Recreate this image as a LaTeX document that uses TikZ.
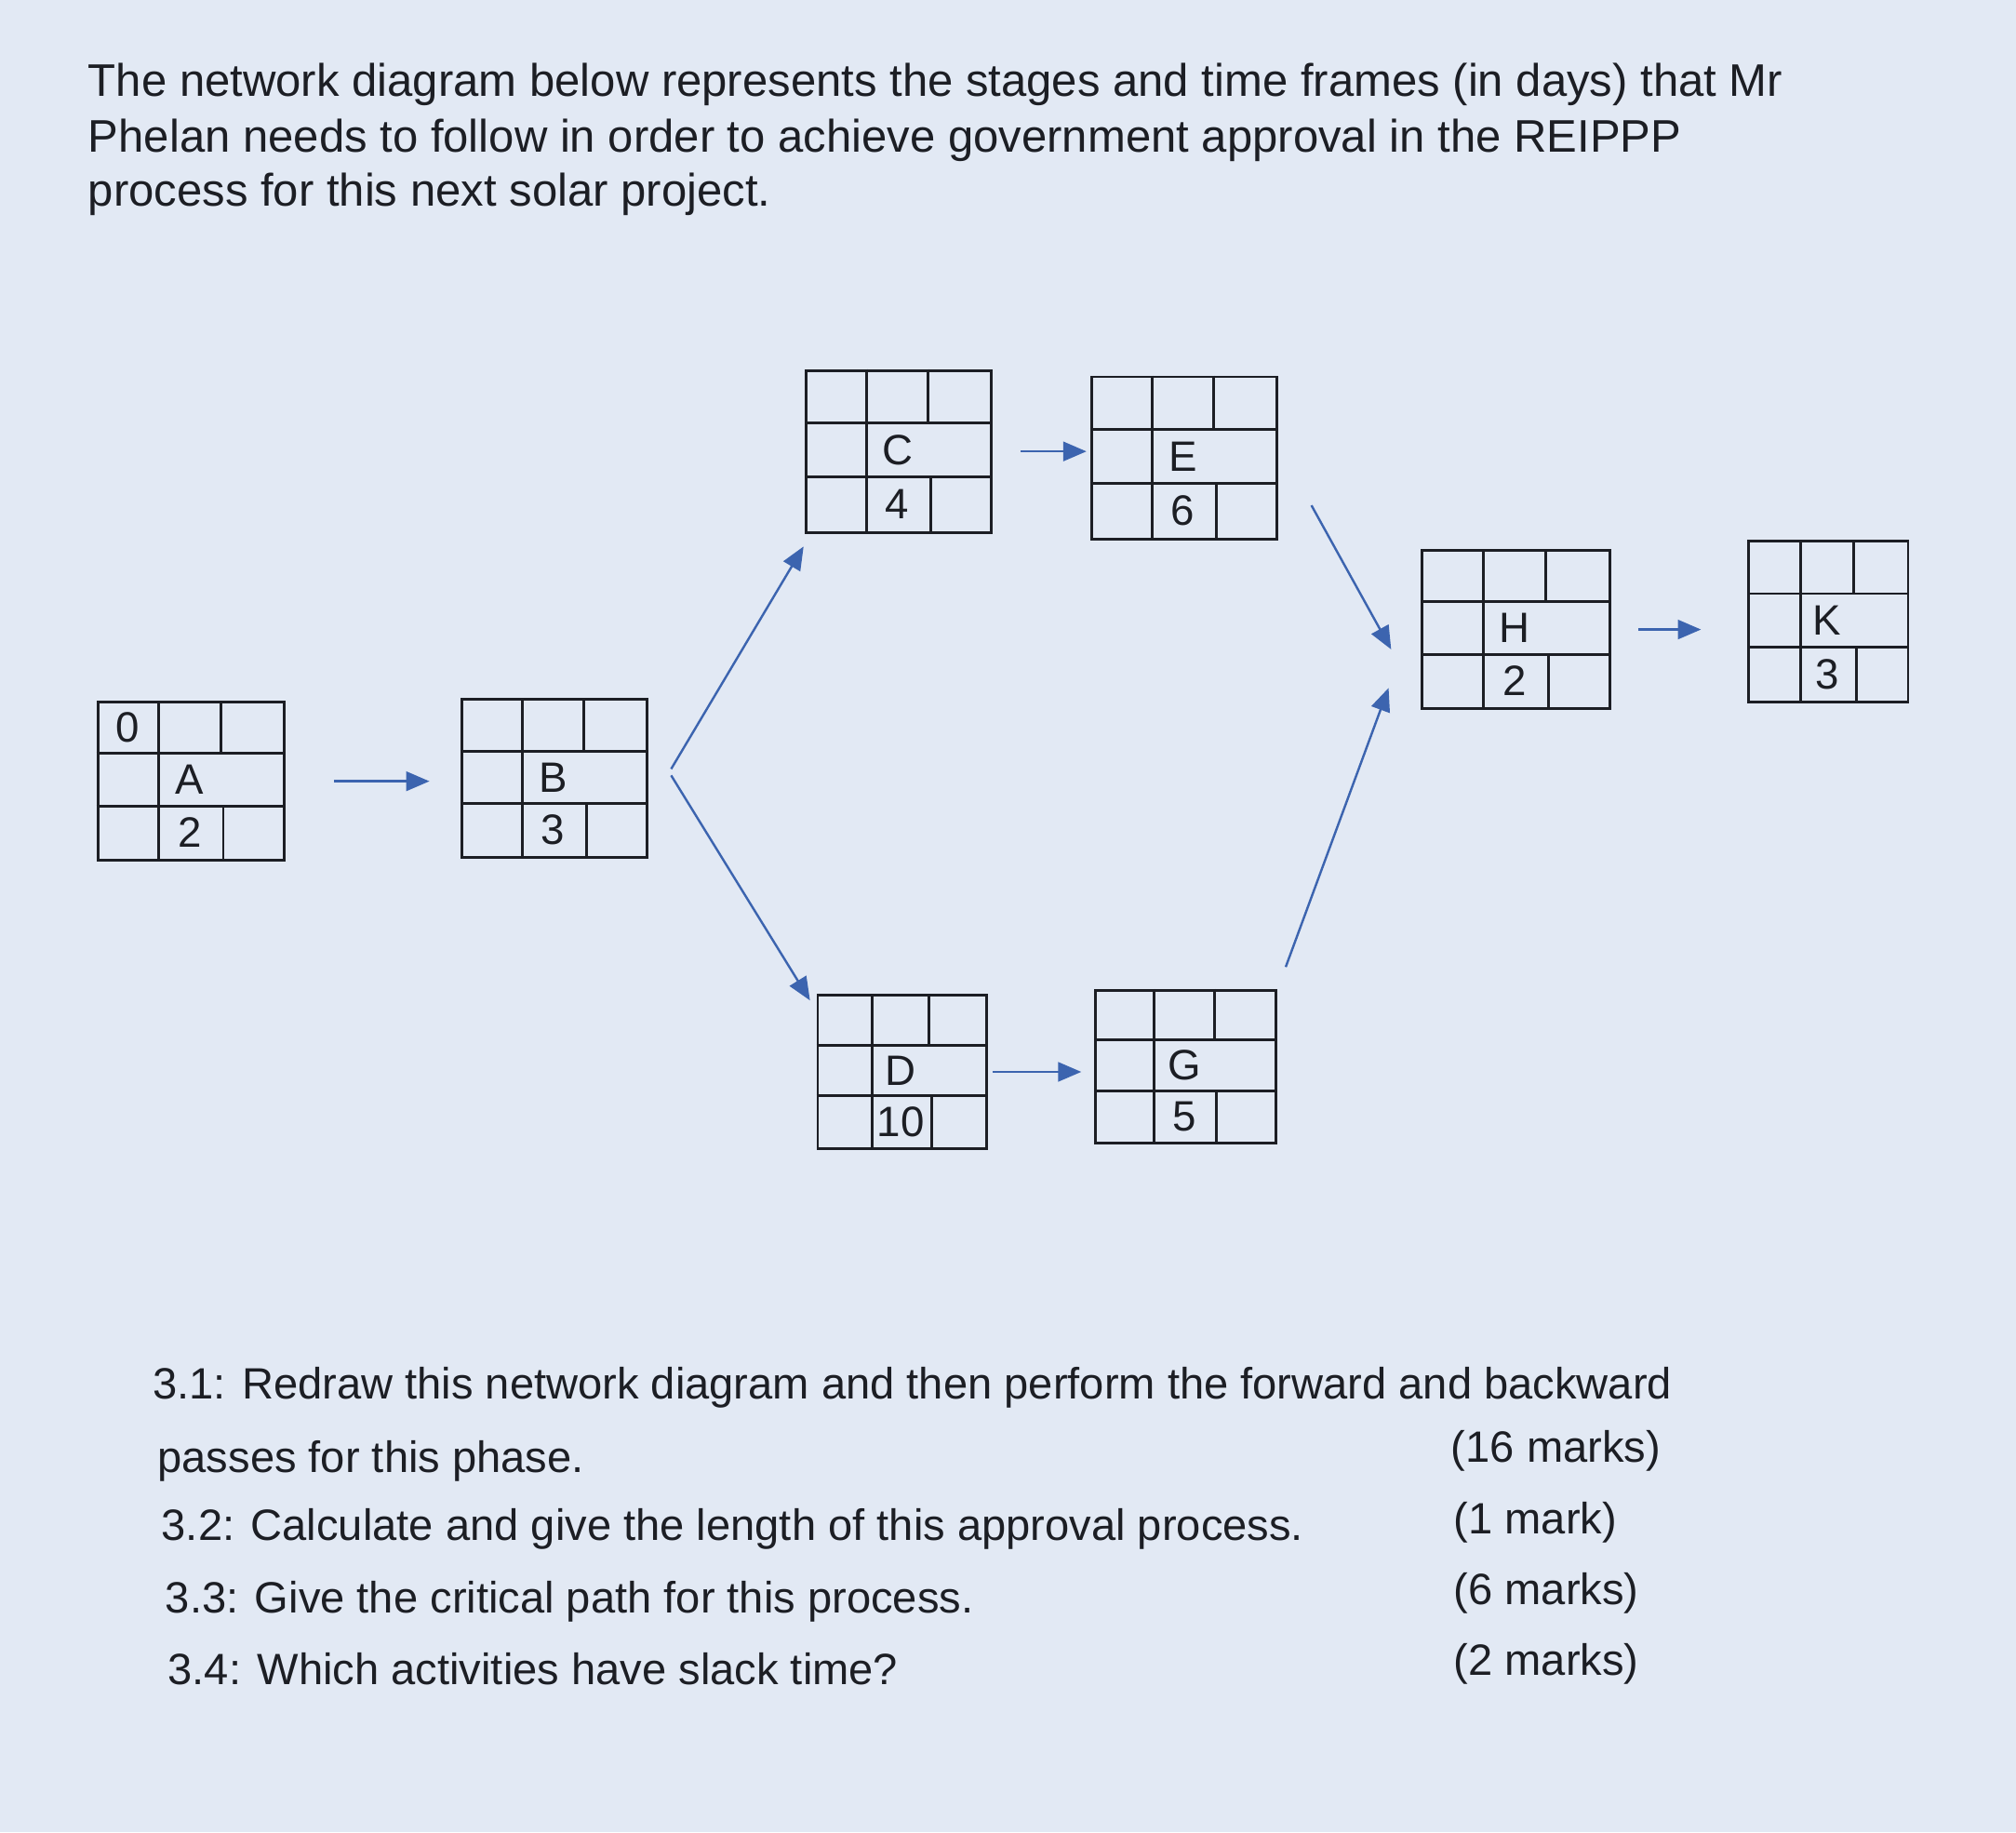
\documentclass[tikz,border=0pt]{standalone}
\usepackage{fontspec}
\setmainfont{Liberation Sans}
\usetikzlibrary{calc,arrows.meta}
\definecolor{bg}{RGB}{226,233,244}
\definecolor{ink}{RGB}{28,30,36}
\definecolor{arrc}{RGB}{60,100,175}
\tikzset{
  arr/.style={draw=arrc,line width=0.5pt,-{Triangle[length=1.8mm,width=1.5mm]}},
  txt/.style={anchor=base west,inner sep=0,text=ink,font=\fontsize{10.1pt}{11pt}\selectfont},
  qtxt/.style={anchor=base west,inner sep=0,text=ink,font=\fontsize{9.7pt}{11pt}\selectfont},
  cell/.style={inner sep=0,text=ink,font=\fontsize{9.4pt}{10pt}\selectfont}
}
\newcommand\gbox[8]{%
  \node[draw=ink,line width=0.6pt,anchor=north west,inner sep=0,minimum width=#4*0.1mm,minimum height=#5*0.1mm] (#1) at (#2,#3) {};
  \begin{scope}[shift={(#2,#3)}]
    \draw[ink,line width=0.6pt] (0,#5/3) -- (#4,#5/3) (0,2*#5/3) -- (#4,2*#5/3)
      (#4/3,0) -- (#4/3,#5) (2*#4/3,0) -- (2*#4/3,#5/3) (2*#4/3+2,2*#5/3) -- (2*#4/3+2,#5);
    \node[cell] at (#4/6,#5/6) {#6};
    \node[cell] at (#4/2,#5/2) {#7};
    \node[cell] at (#4/2,5*#5/6) {#8};
  \end{scope}}
\begin{document}
\begin{tikzpicture}[x=0.1mm,y=-0.1mm]
\fill[bg] (0,0) rectangle (1568,1425);
\useasboundingbox (0,0) rectangle (1568,1425);
\node[txt] (t1) at (68,75) {The network diagram below represents the stages and time frames (in days) that Mr};
\node[txt] (t2) at (68,118) {Phelan needs to follow in order to achieve government approval in the REIPPP};
\node[txt] (t3) at (68,160) {process for this next solar project.};
\gbox{A}{75}{545}{145}{123}{0}{A}{2}
\gbox{B}{358}{543}{144}{123}{}{B}{3}
\gbox{C}{626}{287}{144}{126}{}{C}{4}
\gbox{E}{848}{292}{144}{126}{}{E}{6}
\gbox{H}{1105}{427}{146}{123}{}{H}{2}
\gbox{K}{1359}{420}{124}{125}{}{K}{3}
\gbox{D}{635}{773}{131}{119}{}{D}{10}
\gbox{G}{851}{769}{140}{119}{}{G}{5}
\draw[arr,shorten <=3.8mm,shorten >=2.4mm] (A.east) -- (A.east -| B.west);
\draw[arr,shorten <=2.2mm,shorten >=0.3mm] (C.east) -- (C.east -| E.west);
\draw[arr,shorten <=0.4mm,shorten >=1mm] (D.east) -- (D.east -| G.west);
\draw[arr,shorten <=2.1mm,shorten >=3.6mm] (H.east) -- (H.east -| K.west);
\coordinate (bc) at (522,598);
\coordinate (bd) at (522,603);
\coordinate (eh) at (1020,393);
\coordinate (gh) at (1000,752);
\draw[arr] (bc) -- (625,425) coordinate (c1);
\draw[arr] (bd) -- (630,778) coordinate (d1);
\draw[arr] (eh) -- (1082,505) coordinate (h1);
\draw[arr] (gh) -- (1080,535) coordinate (h2);
\node[qtxt] (q1) at (118,1088) {3.1: Redraw this network diagram and then perform the forward and backward};
\node[qtxt] (q1b) at (122,1145) {passes for this phase.};
\node[qtxt] (m1) at (1128,1137) {(16 marks)};
\node[qtxt] (q2) at (125,1198) {3.2: Calculate and give the length of this approval process.};
\node[qtxt] (m2) at (1130,1193) {(1 mark)};
\node[qtxt] (q3) at (128,1254) {3.3: Give the critical path for this process.};
\node[qtxt] (m3) at (1130,1248) {(6 marks)};
\node[qtxt] (q4) at (130,1310) {3.4: Which activities have slack time?};
\node[qtxt] (m4) at (1130,1303) {(2 marks)};
\end{tikzpicture}
\end{document}
